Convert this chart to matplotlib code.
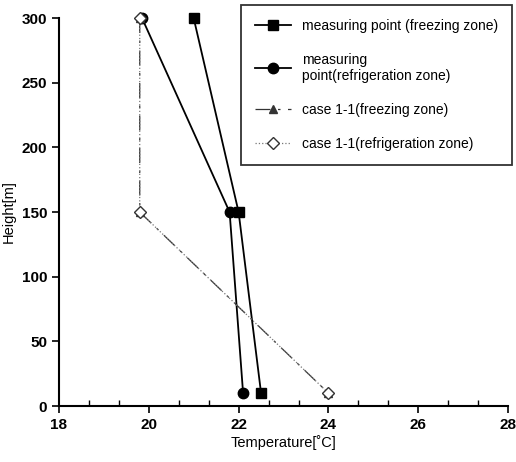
import numpy as np
import matplotlib.pyplot as plt
from matplotlib.ticker import MultipleLocator

plt.rcParams['font.family'] = ['Liberation Sans', 'DejaVu Sans']

# data
height = [300, 150, 10]
meas_freeze = [21.0, 22.0, 22.5]
meas_refrig = [19.85, 21.8, 22.1]
case_freeze = [19.8, 19.8, 24.0]
case_refrig = [19.8, 19.8, 24.0]

fig = plt.figure(figsize=(5.16, 4.62), dpi=100)
ax = fig.add_axes([0.114, 0.121, 0.871, 0.840])

ax.plot(meas_freeze, height, color='black', lw=1.3, marker='s', ms=7.5,
        clip_on=False, label='measuring point (freezing zone)')
ax.plot(meas_refrig, height, color='black', lw=1.3, marker='o', ms=7.5,
        clip_on=False, label='measuring\npoint(refrigeration zone)')
ax.plot(case_freeze, height, color='#333333', lw=0.9, ls=(0, (12, 6, 2, 6)),
        marker='^', ms=6, clip_on=False, label='case 1-1(freezing zone)')
ax.plot(case_refrig, height, color='#777777', lw=0.9, ls=':', marker='D', ms=6,
        mfc='white', mec='#333333', clip_on=False,
        label='case 1-1(refrigeration zone)')

ax.set_xlim(18, 28)
ax.set_ylim(0, 300)
ax.set_xticks(np.arange(18, 29, 2))
ax.set_yticks(np.arange(0, 301, 50))
ax.xaxis.set_minor_locator(MultipleLocator(2 / 3))
ax.tick_params(axis='x', which='major', direction='out', length=5, width=1.2)
ax.tick_params(axis='x', which='minor', direction='in', length=4, width=1)
ax.tick_params(axis='y', which='major', direction='out', length=5, width=1.2)
for lab in ax.get_xticklabels() + ax.get_yticklabels():
    lab.set_fontweight('bold')
    lab.set_fontsize(11)

ax.spines['top'].set_visible(False)
ax.spines['right'].set_visible(False)
ax.spines['left'].set_linewidth(1.5)
ax.spines['bottom'].set_linewidth(1.5)

ax.set_xlabel('Temperature[\u02daC]', fontsize=10.5, labelpad=2)
ax.set_ylabel('Height[m]', fontsize=10.5, labelpad=4)

leg = fig.legend(loc='upper right', bbox_to_anchor=(0.993, 0.99),
                 frameon=True, fancybox=False, edgecolor='black',
                 fontsize=10, handlelength=2.6, borderpad=1.0,
                 labelspacing=1.45, borderaxespad=0)
leg.get_frame().set_linewidth(1.3)

fig.savefig('out.png', dpi=100)
